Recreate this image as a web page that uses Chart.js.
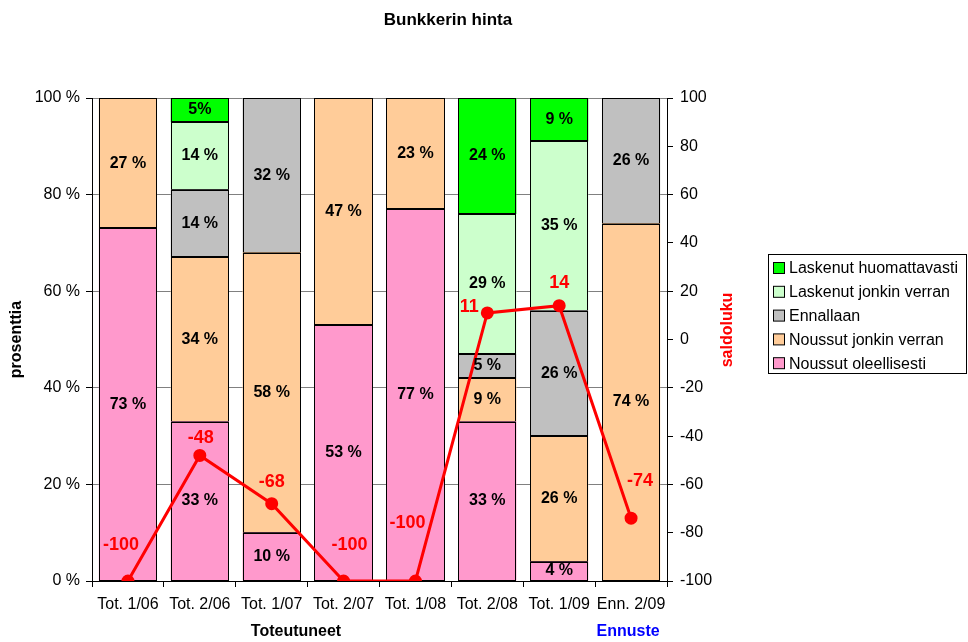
<!DOCTYPE html>
<html>
<head>
<meta charset="utf-8">
<script src="https://cdn.jsdelivr.net/npm/chart.js@4/dist/chart.umd.min.js"></script>
<style>
  body { margin: 0; background: #fff; }
</style>
</head>
<body>
<canvas id="myChart" width="968" height="642"></canvas>
<script>
const categories = ['Tot. 1/06', 'Tot. 2/06', 'Tot. 1/07', 'Tot. 2/07', 'Tot. 1/08', 'Tot. 2/08', 'Tot. 1/09', 'Enn. 2/09'];

const noussutOleellisesti = [73, 33, 10, 53, 77, 33, 4, 0];
const noussutJonkin = [27, 34, 58, 47, 23, 9, 26, 74];
const ennallaan = [0, 14, 32, 0, 0, 5, 26, 26];
const laskenutJonkin = [0, 14, 0, 0, 0, 29, 35, 0];
const laskenutHuom = [0, 5, 0, 0, 0, 24, 9, 0];

const saldoluku = [-100, -48, -68, -100, -100, 11, 14, -74];

const leftTicks = [0, 20, 40, 60, 80, 100];
const rightTicks = [-100, -80, -60, -40, -20, 0, 20, 40, 60, 80, 100];

// where each saldo label sits relative to its point
const labelOffsets = [[-7, -36], [1, -17], [0, -22], [6, -36], [-8, -58], [-18, -6], [0, -23], [9, -37]];

Chart.defaults.font.family = '"Liberation Sans", Arial, sans-serif';
Chart.defaults.color = '#000';

const font = 'Liberation Sans, Arial, sans-serif';

const extras = {
    id: 'extras',
    afterDatasetDraw(chart, args) {
        // crisp black outlines round the bar segments
        const ds = chart.data.datasets[args.index];
        if (ds.type === 'line') return;
        const ctx = chart.ctx;
        ctx.save();
        ctx.strokeStyle = '#000';
        ctx.lineWidth = 1;
        args.meta.data.forEach((bar, i) => {
            if (!ds.data[i]) return;
            const x0 = Math.round(bar.x - bar.width / 2) + 0.5;
            const x1 = Math.round(bar.x + bar.width / 2) - 0.5;
            const y0 = Math.round(Math.min(bar.y, bar.base)) + 0.5;
            const y1 = Math.round(Math.max(bar.y, bar.base)) - 0.5;
            ctx.strokeRect(x0, y0, x1 - x0, y1 - y0);
        });
        ctx.restore();
    },
    afterDatasetsDraw(chart) {
        const ctx = chart.ctx;
        ctx.save();
        ctx.textAlign = 'center';
        ctx.textBaseline = 'middle';

        // percentages inside the bars
        ctx.font = 'bold 16px ' + font;
        ctx.fillStyle = '#000';
        chart.data.datasets.forEach((ds, di) => {
            if (ds.type === 'line') return;
            const meta = chart.getDatasetMeta(di);
            meta.data.forEach((bar, i) => {
                const v = ds.data[i];
                if (!v) return;
                const txt = (di === 4 && i === 1) ? v + '%' : v + ' %';
                ctx.fillText(txt, bar.x, (bar.y + bar.base) / 2);
            });
        });

        // saldoluku values
        ctx.font = 'bold 18px ' + font;
        ctx.fillStyle = '#FF0000';
        const lineIdx = chart.data.datasets.findIndex(d => d.type === 'line');
        chart.getDatasetMeta(lineIdx).data.forEach((pt, i) => {
            const off = labelOffsets[i];
            ctx.fillText(String(saldoluku[i]), pt.x + off[0], pt.y + off[1]);
        });
        ctx.restore();
    },
    afterDraw(chart) {
        const ctx = chart.ctx;
        ctx.save();
        ctx.textBaseline = 'middle';
        ctx.textAlign = 'center';

        ctx.font = 'bold 17px ' + font;
        ctx.fillStyle = '#000';
        ctx.fillText('Bunkkerin hinta', 448, 20);

        ctx.font = 'bold 16px ' + font;
        ctx.fillText('Toteutuneet', 296, 632);
        ctx.fillStyle = '#0000FF';
        ctx.fillText('Ennuste', chart.scales.x.getPixelForValue(7) - 3, 632);

        // right axis title, reads bottom to top
        ctx.save();
        ctx.translate(728, 330);
        ctx.rotate(-Math.PI / 2);
        ctx.fillStyle = '#FF0000';
        ctx.fillText('saldoluku', 0, 0);
        ctx.restore();

        // legend
        const bx = 768.5, by = 254.5, bw = 198, bh = 119;
        ctx.fillStyle = '#fff';
        ctx.fillRect(bx, by, bw, bh);
        ctx.strokeStyle = '#000';
        ctx.lineWidth = 1;
        ctx.strokeRect(bx, by, bw, bh);
        ctx.font = '16px ' + font;
        ctx.textAlign = 'left';
        const bars = chart.data.datasets.filter(d => d.type !== 'line').slice().reverse();
        bars.forEach((ds, k) => {
            const cy = 268 + k * 23.8;
            ctx.fillStyle = ds.backgroundColor;
            ctx.fillRect(773.5, cy - 5.5, 11, 11);
            ctx.strokeRect(773.5, cy - 5.5, 11, 11);
            ctx.fillStyle = '#000';
            ctx.fillText(ds.label, 789, cy + 1);
        });
        ctx.restore();
    }
};

function barSet(label, data, color) {
    return {
        type: 'bar',
        label: label,
        data: data,
        backgroundColor: color,
        borderWidth: 0,
        barPercentage: 0.81,
        categoryPercentage: 1,
        yAxisID: 'y',
        order: 1
    };
}

const ctx = document.getElementById('myChart').getContext('2d');
const myChart = new Chart(ctx, {
    data: {
        labels: categories,
        datasets: [
            barSet('Noussut oleellisesti', noussutOleellisesti, '#FF99CC'),
            barSet('Noussut jonkin verran', noussutJonkin, '#FFCC99'),
            barSet('Ennallaan', ennallaan, '#C0C0C0'),
            barSet('Laskenut jonkin verran', laskenutJonkin, '#CCFFCC'),
            barSet('Laskenut huomattavasti', laskenutHuom, '#00FF00'),
            {
                type: 'line',
                label: 'saldoluku',
                data: saldoluku,
                borderColor: '#FF0000',
                backgroundColor: '#FF0000',
                borderWidth: 3,
                pointRadius: 5,
                pointHoverRadius: 5,
                yAxisID: 'y1',
                order: 0
            }
        ]
    },
    options: {
        responsive: false,
        animation: false,
        layout: { padding: { left: 0, right: 221, top: 98, bottom: 0 } },
        plugins: {
            legend: { display: false },
            tooltip: { enabled: false },
            title: { display: false }
        },
        scales: {
            x: {
                stacked: true,
                afterFit: s => { s.height = 61; },
                grid: { drawOnChartArea: false, color: '#000', tickLength: 6, offset: true },
                border: { color: '#000' },
                ticks: { font: { size: 16 }, padding: 8, maxRotation: 0, autoSkip: false }
            },
            y: {
                stacked: true,
                min: 0,
                max: 100,
                afterFit: s => { s.width = 92; },
                afterBuildTicks: s => { s.ticks = leftTicks.map(v => ({ value: v })); },
                grid: { color: '#808080', tickColor: '#000', tickLength: 6 },
                border: { color: '#000' },
                ticks: { font: { size: 16 }, padding: 6, callback: v => v + ' %' },
                title: { display: true, text: 'prosenttia', font: { size: 16, weight: 'bold' }, padding: { top: 7, bottom: 0 } }
            },
            y1: {
                position: 'right',
                min: -100,
                max: 100,
                afterFit: s => { s.width = 80; },
                afterBuildTicks: s => { s.ticks = rightTicks.map(v => ({ value: v })); },
                grid: { drawOnChartArea: false, color: '#000', tickLength: 6 },
                border: { color: '#000' },
                ticks: { font: { size: 16 }, padding: 7 }
            }
        }
    },
    plugins: [extras]
});
</script>
</body>
</html>
